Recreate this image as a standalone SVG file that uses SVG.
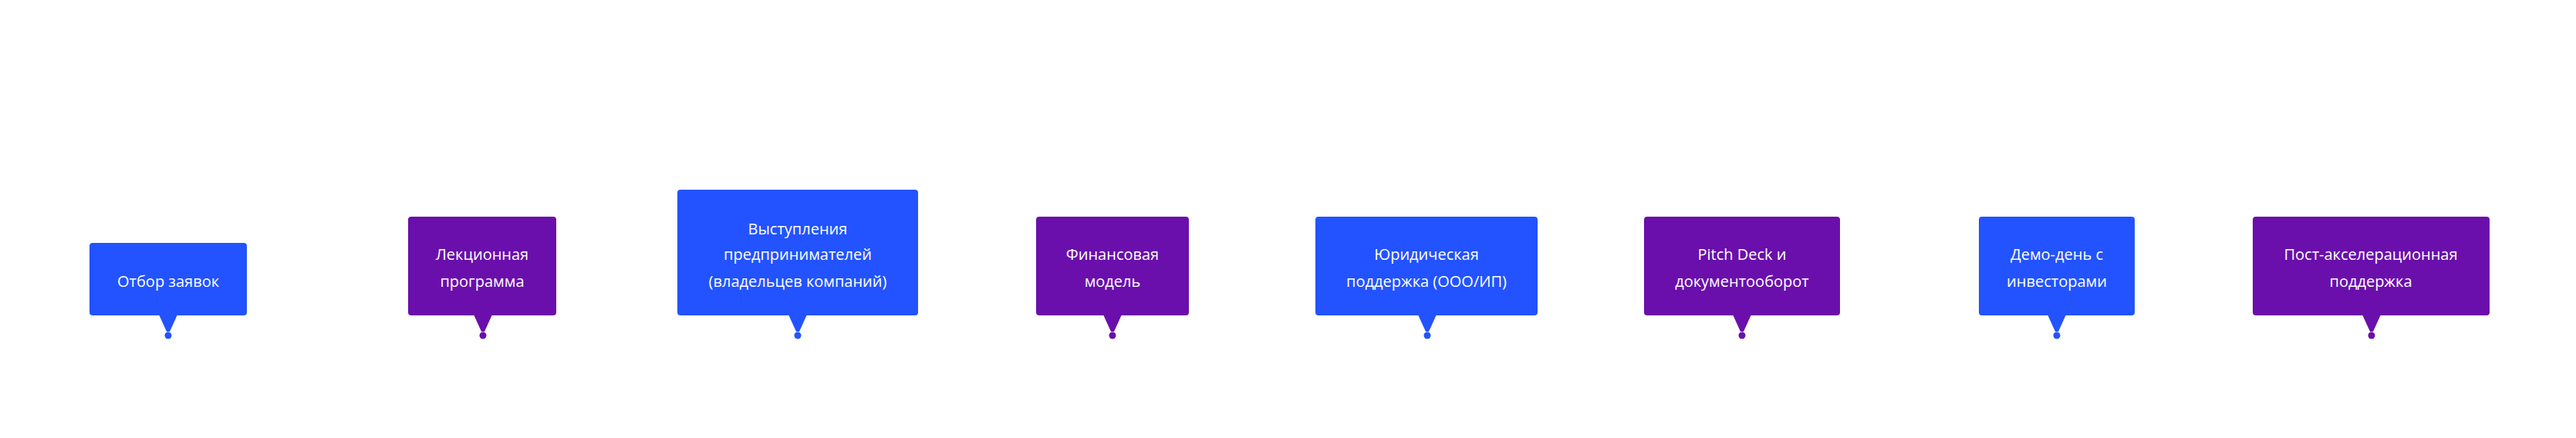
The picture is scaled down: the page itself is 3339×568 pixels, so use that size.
<svg xmlns="http://www.w3.org/2000/svg" width="3339" height="568" viewBox="0 0 3339 568">
<style>
.b{fill:#2253FF}.p{fill:#6A0FAB}
text{font-family:"Open Sans","Noto Sans",sans-serif;font-size:20px;fill:#fff;text-anchor:middle;dominant-baseline:central}
</style>
<rect width="3339" height="568" fill="#fff"/>
<g id="connectors">
<path class="b" d="M206 408 L230 408 L220 430 L216 430 Z"/><circle class="b" cx="218" cy="435" r="4.5"/>
<path class="p" d="M614 408 L638 408 L628 430 L624 430 Z"/><circle class="p" cx="626" cy="435" r="4.5"/>
<path class="b" d="M1022 408 L1046 408 L1036 430 L1032 430 Z"/><circle class="b" cx="1034" cy="435" r="4.5"/>
<path class="p" d="M1430 408 L1454 408 L1444 430 L1440 430 Z"/><circle class="p" cx="1442" cy="435" r="4.5"/>
<path class="b" d="M1838 408 L1862 408 L1852 430 L1848 430 Z"/><circle class="b" cx="1850" cy="435" r="4.5"/>
<path class="p" d="M2246 408 L2270 408 L2260 430 L2256 430 Z"/><circle class="p" cx="2258" cy="435" r="4.5"/>
<path class="b" d="M2654 408 L2678 408 L2668 430 L2664 430 Z"/><circle class="b" cx="2666" cy="435" r="4.5"/>
<path class="p" d="M3062 408 L3086 408 L3076 430 L3072 430 Z"/><circle class="p" cx="3074" cy="435" r="4.5"/>
</g>
<g id="n1"><rect class="b" x="116" y="315" width="204" height="94" rx="4"/><text x="218" y="364">Отбор заявок</text></g>
<g id="n2"><rect class="p" x="529" y="281" width="192" height="128" rx="4"/><text x="625" y="329">Лекционная</text><text x="625" y="364">программа</text></g>
<g id="n3"><rect class="b" x="878" y="246" width="312" height="163" rx="4"/><text x="1034" y="296">Выступления</text><text x="1034" y="329">предпринимателей</text><text x="1034" y="364">(владельцев компаний)</text></g>
<g id="n4"><rect class="p" x="1343" y="281" width="198" height="128" rx="4"/><text x="1442" y="329">Финансовая</text><text x="1442" y="364">модель</text></g>
<g id="n5"><rect class="b" x="1705" y="281" width="288" height="128" rx="4"/><text x="1849" y="329">Юридическая</text><text x="1849" y="364">поддержка (ООО/ИП)</text></g>
<g id="n6"><rect class="p" x="2131" y="281" width="254" height="128" rx="4"/><text x="2258" y="329">Pitch Deck и</text><text x="2258" y="364">документооборот</text></g>
<g id="n7"><rect class="b" x="2565" y="281" width="202" height="128" rx="4"/><text x="2666" y="329">Демо-день с</text><text x="2666" y="364">инвесторами</text></g>
<g id="n8"><rect class="p" x="2920" y="281" width="307" height="128" rx="4"/><text x="3073" y="329">Пост-акселерационная</text><text x="3073" y="364">поддержка</text></g>
</svg>
